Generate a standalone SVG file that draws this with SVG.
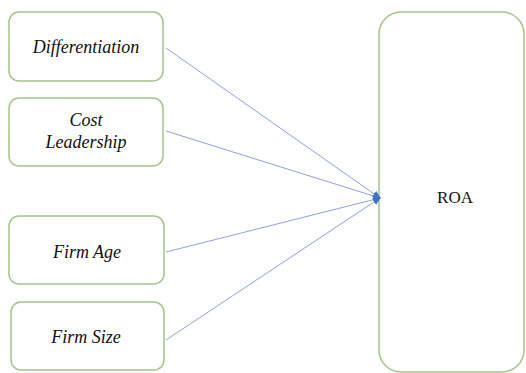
<svg xmlns="http://www.w3.org/2000/svg" width="526" height="373" viewBox="0 0 526 373">
<style>
.box{fill:#fff;stroke:#a5c38a;stroke-width:1.5}
.lbl{font-family:'Liberation Serif','Times New Roman','DejaVu Serif',serif;font-size:18px;font-style:italic;fill:#111;text-anchor:middle}
.roa{font-family:'Liberation Serif','Times New Roman','DejaVu Serif',serif;font-size:17px;fill:#111;text-anchor:middle}
.con{stroke:#7f97d6;stroke-width:0.9;fill:none}
</style>
<defs>
<marker id="ah" markerWidth="8" markerHeight="8" refX="7" refY="4" orient="auto" markerUnits="userSpaceOnUse">
<path d="M0,0.5 L8,4 L0,7.5 Z" fill="#4472c4"/>
</marker>
</defs>
<g id="n-diff"><rect class="box" x="9" y="12" width="154" height="69" rx="10"/><text class="lbl" x="86" y="53">Differentiation</text></g>
<g id="n-cost"><rect class="box" x="9" y="98" width="154" height="68" rx="10"/><text class="lbl" x="86" y="126">Cost</text><text class="lbl" x="86" y="148">Leadership</text></g>
<g id="n-age"><rect class="box" x="9" y="216" width="155" height="68" rx="10"/><text class="lbl" x="87" y="258">Firm Age</text></g>
<g id="n-size"><rect class="box" x="11" y="302" width="153" height="68" rx="10"/><text class="lbl" x="86" y="343">Firm Size</text></g>
<g id="n-roa"><rect class="box" x="379" y="12" width="145" height="360" rx="22"/><text class="roa" x="455" y="203">ROA</text></g>
<g id="connectors">
<line class="con" x1="166" y1="48" x2="380" y2="198" marker-end="url(#ah)"/>
<line class="con" x1="166" y1="131" x2="380" y2="198" marker-end="url(#ah)"/>
<line class="con" x1="166" y1="252" x2="380" y2="198" marker-end="url(#ah)"/>
<line class="con" x1="166" y1="340" x2="380" y2="198" marker-end="url(#ah)"/>
</g>
</svg>
